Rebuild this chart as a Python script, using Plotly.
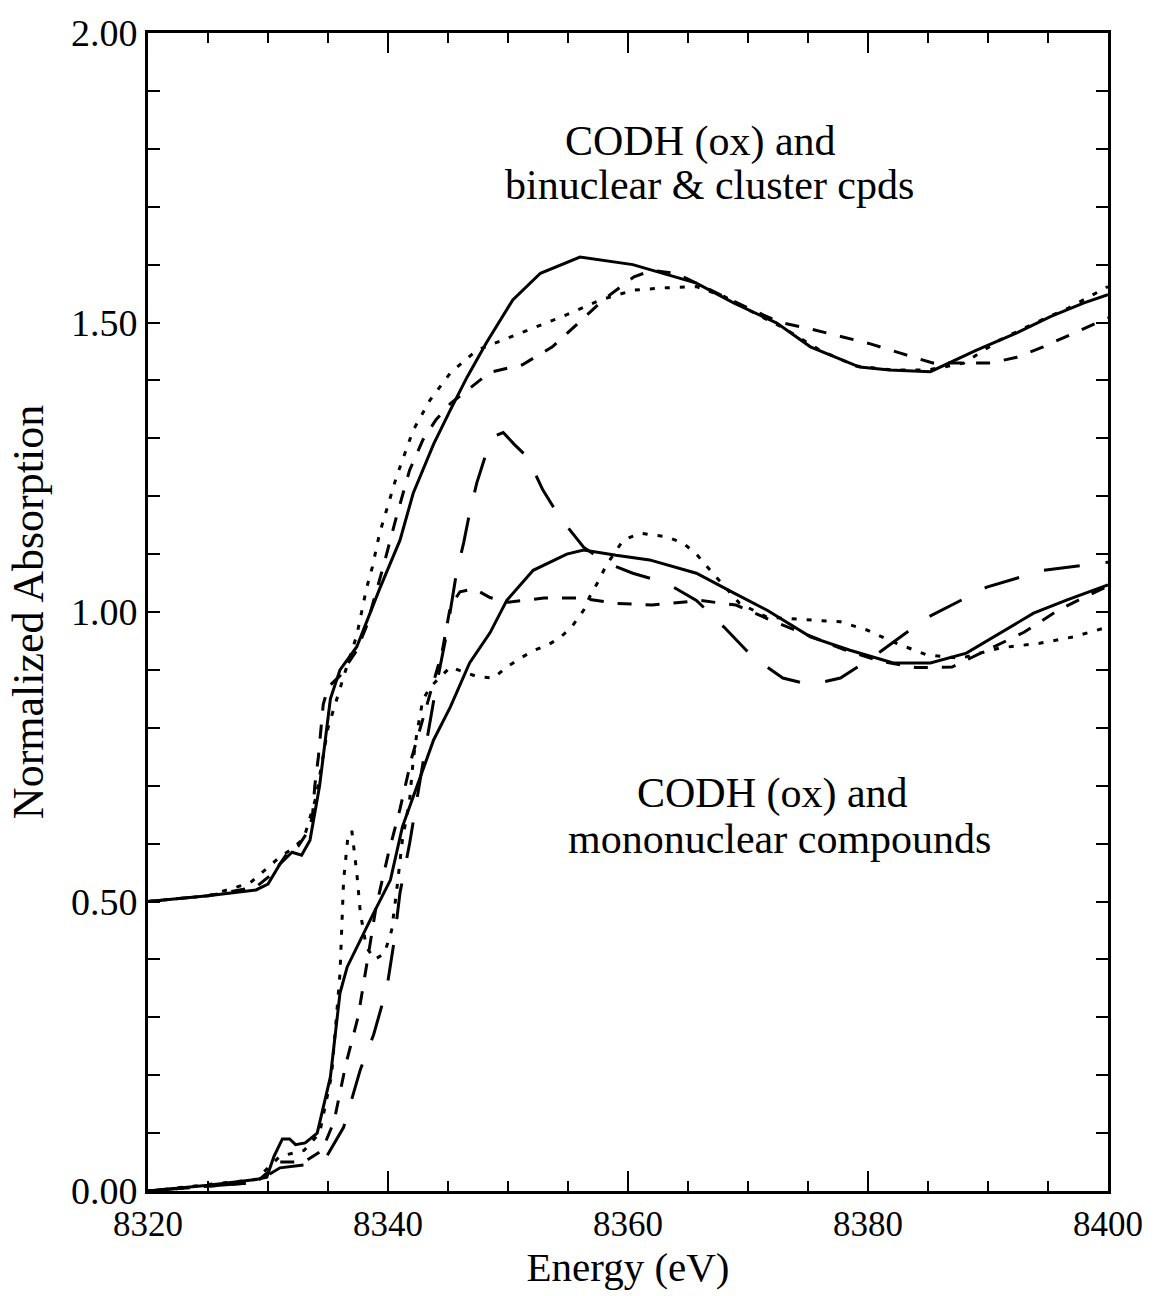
import plotly.graph_objects as go

# ---------------- data ----------------
# Upper group: CODH (ox) and binuclear & cluster compounds (offset +0.5)
up_solid_E = [8320, 8325, 8329, 8330, 8331, 8332, 8332.8, 8333.5, 8334.3, 8335.2, 8336, 8337.4,
              8339.3, 8341, 8342.1, 8343.8, 8345.2, 8346.6, 8348.2, 8350.4, 8352.7, 8356, 8360.4,
              8365.7, 8368.8, 8372.4, 8375.2, 8379.3, 8381.8, 8385.2, 8389, 8392.4, 8395.2, 8398, 8400]
up_solid_A = [0.50, 0.51, 0.52, 0.53, 0.565, 0.585, 0.58, 0.606, 0.70, 0.85, 0.90, 0.94,
              1.04, 1.124, 1.205, 1.29, 1.349, 1.406, 1.465, 1.539, 1.585, 1.613, 1.60,
              1.568, 1.534, 1.499, 1.458, 1.423, 1.418, 1.415, 1.452, 1.482, 1.51, 1.534, 1.548]

up_dash_E = [8320, 8325, 8329, 8330.5, 8331.5, 8332.5, 8333.3, 8333.7, 8333.9, 8334.2, 8334.6, 8335,
             8336, 8337.4, 8338.2, 8339.6, 8340.7, 8341.8, 8342.9, 8344, 8345.2, 8346.6, 8348.5,
             8351.2, 8353.7, 8355.7, 8358, 8360.5, 8362, 8364, 8367, 8370, 8372.7, 8375.2, 8377.9,
             8380.2, 8382.7, 8385.4, 8390.2, 8392.4, 8394.6, 8397.4, 8400]
up_dash_A = [0.50, 0.51, 0.525, 0.55, 0.58, 0.595, 0.62, 0.646, 0.70, 0.75, 0.84, 0.87,
             0.89, 0.934, 0.975, 1.078, 1.164, 1.245, 1.297, 1.332, 1.36, 1.383, 1.414,
             1.427, 1.458, 1.496, 1.54, 1.579, 1.59, 1.585, 1.555, 1.525, 1.50, 1.489, 1.475,
             1.463, 1.447, 1.43, 1.43, 1.44, 1.458, 1.484, 1.508]

up_dot_E = [8320, 8325, 8328.5, 8331, 8332.1, 8333, 8334, 8335, 8336.3, 8337.4, 8338.2, 8338.7,
            8339.3, 8340.7, 8342.1, 8343.5, 8345.2, 8347.4, 8349.6, 8352.1, 8354.6, 8357.7,
            8360.5, 8363.2, 8365.7, 8368, 8370, 8373, 8376, 8379, 8382, 8385, 8388, 8391, 8394,
            8396.7, 8400]
up_dot_A = [0.50, 0.51, 0.532, 0.577, 0.592, 0.61, 0.68, 0.80, 0.888, 0.96, 1.04, 1.078,
            1.136, 1.233, 1.314, 1.366, 1.413, 1.452, 1.47, 1.49, 1.511, 1.539,
            1.556, 1.56, 1.562, 1.545, 1.522, 1.49, 1.452, 1.425, 1.418, 1.418, 1.43, 1.47, 1.50,
            1.525, 1.562]

# Lower group: CODH (ox) and mononuclear compounds
lo_solid_E = [8320, 8325, 8329, 8329.9, 8330.5, 8331.2, 8331.8, 8332.3, 8333.1, 8334.1, 8335.2, 8336,
              8336.6, 8337.4, 8338.8, 8340.2, 8341.2, 8342.4, 8343.8, 8345.2, 8346.8, 8348.5, 8349.9,
              8352.1, 8354.9, 8356.3, 8359, 8361.8, 8365.7, 8368.8, 8371.6, 8375.2, 8378.5, 8382.1,
              8385.2, 8388.2, 8391, 8393.8, 8396.6, 8400]
lo_solid_A = [0.0, 0.01, 0.02, 0.024, 0.06, 0.09, 0.09, 0.08, 0.083, 0.10, 0.197, 0.342,
              0.387, 0.421, 0.48, 0.537, 0.629, 0.698, 0.779, 0.836, 0.912, 0.964, 1.02,
              1.072, 1.10, 1.107, 1.098, 1.09, 1.067, 1.033, 1.003, 0.957, 0.934, 0.912,
              0.912, 0.929, 0.964, 0.998, 1.021, 1.047]

lo_dash_E = [8320, 8329, 8331, 8333, 8334.5, 8335.5, 8336.5, 8337.5, 8338.3, 8339, 8340, 8341, 8342,
             8343.5, 8344.5, 8345.2, 8346, 8347.2, 8348.5, 8350, 8353, 8356, 8359, 8362, 8366, 8369,
             8372, 8375, 8378, 8381, 8384, 8387, 8390, 8393, 8396, 8400]
lo_dash_A = [0.0, 0.015, 0.05, 0.05, 0.07, 0.12, 0.22, 0.30, 0.40, 0.49, 0.58, 0.66, 0.75,
             0.86, 0.93, 1.01, 1.035, 1.04, 1.025, 1.017, 1.024, 1.024, 1.015, 1.012, 1.02, 1.012,
             0.985, 0.96, 0.935, 0.915, 0.904, 0.905, 0.935, 0.965, 1.005, 1.045]

lo_long_E = [8320, 8329, 8331, 8333, 8334.9, 8336.3, 8337.7, 8338.8, 8339.9, 8340.5, 8341, 8341.8,
             8343, 8344, 8344.9, 8345.7, 8346.3, 8346.8, 8347.4, 8348.2, 8349, 8349.6, 8350.5,
             8351.6, 8352.9, 8354.3, 8356.3, 8358.2, 8360.4, 8363.2, 8365.7, 8368, 8370.4, 8372.9,
             8375.2, 8377.7, 8380.4, 8384.9, 8389.9, 8394.6, 8400]
lo_long_A = [0.0, 0.015, 0.04, 0.045, 0.06, 0.11, 0.21, 0.27, 0.35, 0.43, 0.515, 0.60,
             0.75, 0.87, 0.964, 1.067, 1.119, 1.171, 1.223, 1.275, 1.305, 1.31, 1.29,
             1.268, 1.211, 1.164, 1.112, 1.085, 1.067, 1.05, 1.02, 0.974, 0.922, 0.886,
             0.874, 0.886, 0.922, 0.99, 1.043, 1.072, 1.086]

lo_dot_E = [8320, 8329, 8331, 8333, 8334.3, 8335.3, 8336.0, 8336.3, 8336.7, 8337, 8337.4, 8337.7,
            8338.2, 8338.9, 8339.7, 8340.3, 8340.7, 8341.2, 8341.8, 8342.1, 8342.4, 8342.9, 8343.5,
            8345.2, 8346.5, 8347.5, 8348.8, 8349.9, 8351, 8352.2, 8353.3, 8354.3, 8355.3, 8356.3,
            8356.8, 8357.5, 8358.2, 8359.6, 8361, 8363.2, 8364.6, 8365.7, 8366.6, 8369.3, 8371.6,
            8375.2, 8377.7, 8379.9, 8382.1, 8384.9, 8387.7, 8391, 8394.3, 8397.1, 8400]
lo_dot_A = [0.0, 0.02, 0.06, 0.07, 0.10, 0.20, 0.376, 0.537, 0.62, 0.62, 0.549, 0.48,
            0.421, 0.40, 0.41, 0.45, 0.515, 0.606, 0.675, 0.744, 0.79, 0.848, 0.87,
            0.905, 0.895, 0.888, 0.886, 0.905, 0.92, 0.934, 0.943, 0.955, 0.974, 1.003,
            1.026, 1.052, 1.081, 1.124, 1.136, 1.13, 1.119, 1.10, 1.078, 1.015, 0.991,
            0.986, 0.983, 0.969, 0.948, 0.926, 0.92, 0.938, 0.946, 0.957, 0.974]

x_tickvals = [8320, 8340, 8360, 8380, 8400]
y_tickvals = [0.0, 0.5, 1.0, 1.5, 2.0]
labels = [
    ("CODH (ox) and", 8366.0, 1.813),
    ("binuclear & cluster cpds", 8366.75, 1.737),
    ("CODH (ox) and", 8372.0, 0.687),
    ("mononuclear compounds", 8372.6, 0.608),
]

FONT = "Liberation Serif, Times New Roman, serif"

fig = go.Figure()

def add(E, A, dash, name):
    fig.add_trace(go.Scatter(x=E, y=A, mode="lines", name=name,
                             line=dict(color="black", width=3, dash=dash),
                             showlegend=False, hoverinfo="skip"))

add(up_dot_E, up_dot_A, "5px,10px", "upper dotted")
add(up_dash_E, up_dash_A, "14px,14px", "upper dashed")
add(up_solid_E, up_solid_A, "solid", "upper CODH")
add(lo_dot_E, lo_dot_A, "5px,10px", "lower dotted")
add(lo_dash_E, lo_dash_A, "14px,14px", "lower dashed")
add(lo_long_E, lo_long_A, "36px,26px", "lower long dashed")
add(lo_solid_E, lo_solid_A, "solid", "lower CODH")

for text, xe, ya in labels:
    fig.add_annotation(x=xe, y=ya, xref="x", yref="y", text=text, showarrow=False,
                       xanchor="center", yanchor="middle",
                       font=dict(family=FONT, size=42, color="black"))

fig.update_layout(
    width=1162, height=1296,
    margin=dict(l=148, r=54, t=33, b=105),
    paper_bgcolor="white", plot_bgcolor="white",
    font=dict(family=FONT, color="black"),
)
fig.update_xaxes(
    range=[8320, 8400], tickvals=x_tickvals, ticktext=[str(v) for v in x_tickvals],
    showline=True, linecolor="black", linewidth=3, mirror="ticks", automargin=False,
    ticks="inside", ticklen=20, tickwidth=2, tickcolor="black",
    minor=dict(dtick=5, tick0=8320, ticks="inside", ticklen=10, tickwidth=2, tickcolor="black"),
    showgrid=False, zeroline=False,
    tickfont=dict(family=FONT, size=35, color="black"),
    title=dict(text="Energy (eV)", font=dict(family=FONT, size=41, color="black"), standoff=4),
)
fig.update_yaxes(
    range=[0, 2.0], tickvals=y_tickvals, ticktext=["%.2f" % v for v in y_tickvals],
    showline=True, linecolor="black", linewidth=3, mirror="ticks", automargin=False,
    ticks="inside", ticklen=12, tickwidth=2, tickcolor="black",
    minor=dict(dtick=0.1, tick0=0, ticks="inside", ticklen=12, tickwidth=2, tickcolor="black"),
    showgrid=False, zeroline=False,
    tickfont=dict(family=FONT, size=38, color="black"),
    title=dict(text="Normalized Absorption", font=dict(family=FONT, size=44, color="black"), standoff=14),
)

fig.write_html("out.html")
